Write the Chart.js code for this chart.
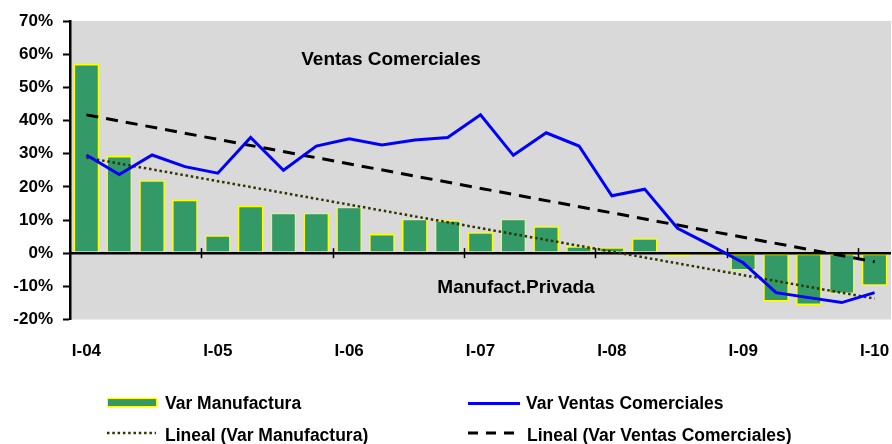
<!DOCTYPE html>
<html><head><meta charset="utf-8">
<script src="https://cdn.jsdelivr.net/npm/chart.js@4.4.0/dist/chart.umd.min.js"></script>
<style>
html,body{margin:0;padding:0;background:#fff;}
#wrap{position:relative;width:892px;height:444px;overflow:hidden;}
canvas{position:absolute;left:0;top:0;}
.lg{position:absolute;font:bold 17.5px "Liberation Sans",Arial,sans-serif;color:#000;line-height:20px;white-space:nowrap;}
.sw{position:absolute;}
</style></head><body>
<div id="wrap">
<canvas id="c" width="892" height="444"></canvas>
<div class="sw" style="left:107px;top:398px;width:50px;height:9px;background:#339966;border:1.5px solid #FFFF00;box-sizing:border-box;"></div>
<div class="lg" style="left:165px;top:393px;">Var Manufactura</div>
<div class="sw" style="left:468px;top:401.5px;width:52px;height:3px;background:#0000FF;"></div>
<div class="lg" style="left:526px;top:393px;">Var Ventas Comerciales</div>
<svg class="sw" style="left:106px;top:430px;" width="50" height="6"><line x1="1" y1="3" x2="50" y2="3" stroke="#333300" stroke-width="2.5" stroke-dasharray="2.5 2.8"/></svg>
<div class="lg" style="left:165px;top:425px;">Lineal (Var Manufactura)</div>
<svg class="sw" style="left:468px;top:430px;" width="56" height="6"><line x1="0" y1="3" x2="54" y2="3" stroke="#000" stroke-width="3" stroke-dasharray="10 8"/></svg>
<div class="lg" style="left:527px;top:425px;">Lineal (Var Ventas Comerciales)</div>
</div>
<script>
const labels = ["I-04","II-04","III-04","IV-04","I-05","II-05","III-05","IV-05","I-06","II-06","III-06","IV-06","I-07","II-07","III-07","IV-07","I-08","II-08","III-08","IV-08","I-09","II-09","III-09","IV-09","I-10"];
const varManufactura = [57.0, 29.3, 22.0, 16.1, 5.4, 14.3, 12.2, 12.2, 14.0, 5.8, 10.4, 9.9, 6.3, 10.4, 8.1, 2.1, 1.8, 4.5, -1.0, -0.5, -5.2, -14.6, -15.6, -12.3, -9.8];
const varVentas = [29.6, 23.7, 29.6, 26.1, 24.1, 34.9, 25.0, 32.3, 34.5, 32.6, 34.1, 34.9, 41.7, 29.5, 36.3, 32.3, 17.3, 19.3, 7.5, 2.4, -2.9, -11.9, -13.4, -14.9, -11.9];
// trend lines: only start and end values
const linealManufactura = [28.8, null,null,null,null,null,null,null,null,null,null,null,null,null,null,null,null,null,null,null,null,null,null,null, -13.7];
const linealVentas = [41.7, null,null,null,null,null,null,null,null,null,null,null,null,null,null,null,null,null,null,null,null,null,null,null, -2.6];
const yTicks = {min:-20, max:70, step:10};
const annotations = [
  {text:"Ventas Comerciales", x:391, y:60},
  {text:"Manufact.Privada", x:516, y:288}
];

const FONT = '"Liberation Sans", Arial, sans-serif';

const deco = {
  id:'deco',
  beforeDraw(chart){
    const {ctx, chartArea:a} = chart;
    ctx.save();
    ctx.fillStyle = '#D9D9D9';
    ctx.fillRect(a.left, a.top, a.right - a.left, a.bottom - a.top);
    ctx.restore();
  },
  afterDatasetDraw(chart, args){
    if (args.index !== 0) return;
    const {ctx, chartArea:a, scales:{x, y}} = chart;
    const y0 = y.getPixelForValue(0);
    ctx.save();
    ctx.strokeStyle = '#000';
    ctx.lineWidth = 2.5;
    ctx.beginPath(); ctx.moveTo(a.left, y0); ctx.lineTo(a.right, y0); ctx.stroke();
    const half = (x.getPixelForValue(1) - x.getPixelForValue(0)) / 2;
    ctx.lineWidth = 1.5;
    for (let i = 4; i < labels.length; i += 4) {
      const px = Math.round(x.getPixelForValue(i) - half) + 0.5;
      ctx.beginPath(); ctx.moveTo(px, y0 - 5); ctx.lineTo(px, y0 + 5); ctx.stroke();
    }
    ctx.restore();
  },
  afterDraw(chart){
    const {ctx} = chart;
    ctx.save();
    ctx.fillStyle = '#000';
    ctx.font = 'bold 19px ' + FONT;
    ctx.textAlign = 'center';
    ctx.textBaseline = 'middle';
    annotations.forEach(a => ctx.fillText(a.text, a.x, a.y));
    ctx.restore();
  }
};

new Chart(document.getElementById('c'), {
  type:'bar',
  data:{
    labels: labels,
    datasets:[
      {type:'bar', label:'Var Manufactura', data:varManufactura, backgroundColor:'#339966', borderColor:'#FFFF00', borderWidth:1.5, borderSkipped:false, categoryPercentage:1.0, barPercentage:0.78, order:3},
      {type:'line', label:'Var Ventas Comerciales', data:varVentas, borderColor:'#0000FF', borderWidth:3, pointRadius:0, tension:0, fill:false, order:0},
      {type:'line', label:'Lineal (Var Ventas Comerciales)', data:linealVentas, borderColor:'#000000', borderWidth:3, borderDash:[12,8], pointRadius:0, spanGaps:true, fill:false, order:1},
      {type:'line', label:'Lineal (Var Manufactura)', data:linealManufactura, borderColor:'#333300', borderWidth:2.5, borderDash:[2.5,2.8], pointRadius:0, spanGaps:true, fill:false, order:2}
    ]
  },
  options:{
    responsive:false,
    animation:false,
    devicePixelRatio:1,
    layout:{padding:{top:21, right:1, left:0, bottom:0}},
    plugins:{legend:{display:false}, tooltip:{enabled:false}},
    scales:{
      x:{
        grid:{display:false, drawTicks:false},
        border:{display:false},
        ticks:{
          autoSkip:false, maxRotation:0, minRotation:0, padding:22,
          color:'#000', font:{family:FONT, size:17, weight:'bold'},
          callback:function(v, i){ return i % 4 === 0 ? this.getLabelForValue(v) : ''; }
        },
        afterFit:(s)=>{ s.height = 124.5; s.paddingLeft = 0; s.paddingRight = 0; }
      },
      y:{
        min:yTicks.min, max:yTicks.max,
        grid:{drawOnChartArea:false, drawTicks:true, tickLength:7, tickColor:'#000', tickWidth:2},
        border:{display:true, color:'#000', width:2.5},
        ticks:{
          stepSize:yTicks.step, padding:10, color:'#000',
          font:{family:FONT, size:17, weight:'bold'},
          callback:(v)=> v + '%'
        },
        afterFit:(s)=>{ s.width = 70; s.paddingTop = 0; s.paddingBottom = 0; }
      }
    }
  },
  plugins:[deco]
});
</script>
</body></html>
